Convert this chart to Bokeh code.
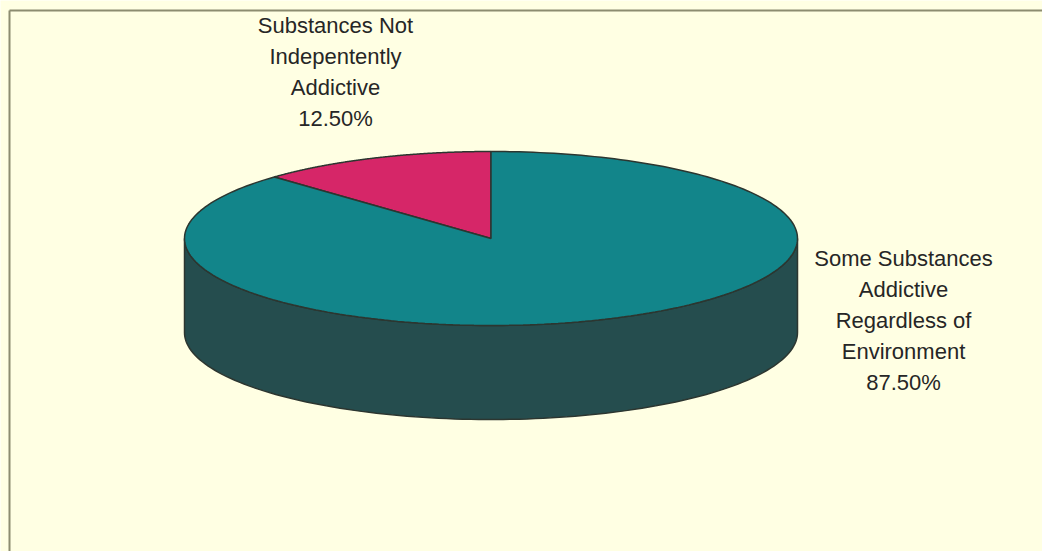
import numpy as np
from bokeh.plotting import figure
from bokeh.models import Range1d
from bokeh.embed import file_html
from bokeh.resources import INLINE
from bokeh.core.properties import value

# ---- data ----
categories = ["Substances Not Indepentently Addictive",
              "Some Substances Addictive Regardless of Environment"]
shares = [12.50, 87.50]
label_lines = [["Substances Not", "Indepentently", "Addictive"],
               ["Some Substances", "Addictive", "Regardless of", "Environment"]]
top_colors = ["#D62668", "#12858A"]
side_colors = ["#7A1A40", "#254D4E"]

# ---- geometry (screen-like coordinates, y down) ----
W, H = 1042, 551
cx, cy = 490.5, 238.0
rx, ry = 306.5, 87.0
depth = 94.0
start_deg = 90.0
bg = "#FFFFE3"
edge = "#2C3630"

p = figure(width=W, height=H, x_range=Range1d(0, W), y_range=Range1d(H, 0),
           output_backend="svg", toolbar_location=None, min_border=0)
p.axis.visible = False
p.grid.visible = False
p.outline_line_color = None
p.background_fill_color = bg
p.border_fill_color = bg

# border (top and left only, as in the scan)
p.segment(x0=[9, 9], y0=[10, 10], x1=[W, 9], y1=[10, H], line_color="#8C8C70", line_width=2)

total = float(sum(shares))
angles = []
a = start_deg
for s in shares:
    b = a + 360.0 * s / total
    angles.append((a, b))
    a = b

def pt(t_deg, dy=0.0):
    t = np.radians(t_deg)
    return cx + rx * np.cos(t), cy - ry * np.sin(t) + dy

# sides (front-visible half: 180..360 degrees)
side_xs, side_ys, side_cols = [], [], []
for (a0, a1), col in zip(angles, side_colors):
    for k in (-360.0, 0.0, 360.0):
        lo, hi = max(a0, 180.0 + k), min(a1, 360.0 + k)
        if hi > lo:
            ts = np.linspace(lo, hi, 120)
            tx, ty = pt(ts)
            bx, by = pt(ts[::-1], depth)
            side_xs.append(list(tx) + list(bx))
            side_ys.append(list(ty) + list(by))
            side_cols.append(col)
p.patches(side_xs, side_ys, fill_color=side_cols, line_color=edge, line_width=1.5)

# tops
top_xs, top_ys = [], []
for (a0, a1) in angles:
    ts = np.linspace(a0, a1, 240)
    tx, ty = pt(ts)
    top_xs.append([cx] + list(tx))
    top_ys.append([cy] + list(ty))
p.patches(top_xs, top_ys, fill_color=top_colors, line_color=edge, line_width=1.5)

# labels
anchors = [(335.0, 25.0), (903.0, 258.0)]
line_h = 31.0
tx_all, ty_all, txt_all = [], [], []
for lines, share, (ax, ay) in zip(label_lines, shares, anchors):
    full = lines + [f"{share:.2f}%"]
    for i, ln in enumerate(full):
        tx_all.append(ax)
        ty_all.append(ay + i * line_h)
        txt_all.append(ln)
p.text(x=tx_all, y=ty_all, text=txt_all, text_align="center", text_baseline="middle",
       text_font=value("Liberation Sans"), text_font_size="22px", text_color="#262626")

open("out.html", "w").write(file_html(p, INLINE))
